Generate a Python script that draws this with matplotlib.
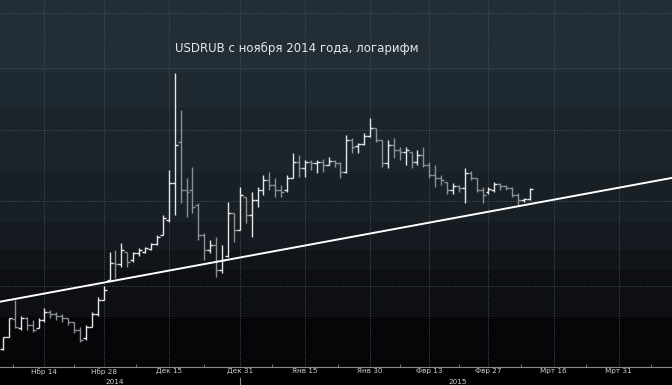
import numpy as np
import pandas as pd
import matplotlib
matplotlib.use("Agg")
import matplotlib.pyplot as plt
from matplotlib.patches import Rectangle
from matplotlib.collections import LineCollection
import matplotlib.transforms as mtransforms

# daily OHLC, every weekday from 2014-11-05 to 2015-03-10 (USD/RUB)
first_day = "2014-11-05"
opens = [43.7, 44.8, 46.6, 45.7, 46.7, 46.0, 45.7, 46.5, 47.3, 47.1, 46.9, 46.7, 46.3, 45.5, 44.7, 45.8, 47.1, 48.5,
         50.7, 52.6, 52.4, 53.8, 52.9, 53.7, 53.8, 54.2, 54.7, 55.8, 57.6, 62.4, 68.2, 61.5, 61.5, 59.6, 55.8, 54.0,
         54.6, 51.8, 53.3, 58.5, 56.4,
         60.6, 58.3, 60.2, 61.5, 62.8, 62.2, 61.5, 61.5, 63.1, 65.3, 64.5, 65.3, 65.2, 65.3, 64.9, 65.5, 65.2, 63.9,
         68.5, 67.6, 67.9, 69.1,
         70.3, 68.5, 65.2, 67.8, 67.0, 66.7, 66.7, 65.3, 66.3, 64.9, 63.5, 63.1, 62.6, 61.5, 62.0, 61.8, 63.8, 63.1,
         61.5, 61.2,
         61.5, 62.3, 62.0, 61.8, 60.8, 60.2, 60.3]
highs = [44.8, 46.7, 48.5, 46.9, 46.8, 46.5, 46.7, 47.7, 47.5, 47.3, 47.1, 46.7, 46.3, 45.8, 46.0, 47.3, 48.8, 50.0,
         53.8, 54.0, 54.9, 53.8, 53.8, 54.3, 54.4, 54.9, 55.8, 58.3, 64.2, 79.1, 73.1, 63.1, 64.6, 59.8, 56.1, 55.2,
         55.6, 54.6, 59.9, 58.5, 61.9,
         60.6, 61.2, 61.9, 63.5, 63.9, 63.1, 62.2, 63.5, 66.6, 66.3, 65.6, 65.6, 65.6, 65.7, 66.0, 65.6, 65.3, 69.2,
         68.8, 68.1, 69.5, 71.8,
         70.3, 68.5, 68.5, 68.8, 67.5, 67.5, 66.8, 67.0, 67.5, 65.3, 64.9, 63.5, 62.6, 62.4, 62.2, 64.5, 64.1, 63.1,
         61.9, 61.9,
         62.6, 62.4, 62.2, 61.9, 61.1, 60.4, 61.8]
lows = [43.6, 44.8, 45.7, 45.5, 45.5, 45.3, 45.7, 46.3, 46.7, 46.5, 46.3, 46.0, 45.2, 44.3, 44.5, 45.8, 46.9, 48.5,
        50.7, 50.9, 52.1, 52.1, 52.7, 53.4, 53.7, 54.0, 54.6, 55.8, 57.4, 58.3, 59.8, 58.0, 58.5, 55.2, 52.9, 53.7,
        51.0, 51.4, 53.2, 55.0, 56.4,
        57.3, 55.6, 59.3, 60.8, 61.5, 60.6, 60.6, 61.2, 63.1, 63.2, 63.2, 64.2, 63.8, 63.9, 64.9, 64.6, 63.1, 63.8,
        66.6, 66.6, 67.8, 68.9,
        68.2, 64.6, 64.5, 65.9, 65.6, 64.9, 64.5, 64.9, 64.6, 63.1, 61.9, 62.2, 61.0, 61.0, 61.2, 59.8, 62.8, 61.2,
        59.8, 61.0,
        61.2, 61.5, 61.5, 60.6, 59.6, 59.9, 60.2]
closes = [44.8, 46.7, 45.8, 46.7, 46.0, 45.5, 46.5, 47.3, 47.1, 46.9, 46.7, 46.3, 45.5, 44.5, 45.8, 47.1, 48.5, 49.6,
          52.6, 52.4, 54.0, 52.7, 53.7, 54.0, 54.3, 54.7, 55.6, 57.9, 62.4, 67.8, 61.5, 61.2, 59.3, 55.8, 54.0, 54.6,
          51.8, 52.9, 58.5, 56.4, 60.8,
          58.3, 60.2, 61.5, 62.8, 62.2, 61.5, 61.2, 63.1, 65.3, 64.5, 65.3, 65.2, 65.3, 64.9, 65.5, 65.2, 63.9, 68.5,
          67.5, 67.9, 69.1, 70.3,
          68.5, 65.2, 67.8, 67.0, 66.7, 67.0, 65.3, 66.3, 64.9, 63.5, 63.1, 62.8, 61.5, 62.0, 61.8, 63.8, 63.1, 61.5,
          60.8, 61.6,
          62.3, 62.0, 61.8, 60.8, 60.2, 60.3, 61.6]

# trend line through two anchor days (log scale)
trend_dates = ["2014-11-05", "2015-03-31"]
trend_values = [48.4, 61.8]

tick_dates = ["2014-11-14", "2014-11-28", "2014-12-15", "2014-12-31", "2015-01-15",
              "2015-01-30", "2015-02-13", "2015-02-27", "2015-03-16", "2015-03-31"]
tick_labels = ["Нбр 14", "Нбр 28", "Дек 15", "Дек 31", "Янв 15",
               "Янв 30", "Фвр 13", "Фвр 27", "Мрт 16", "Мрт 31"]
grid_levels = [50, 60, 70, 80, 90]
title = "USDRUB с ноября 2014 года, логарифм"

days = pd.bdate_range(first_day, "2015-04-30")


def day_index(d):
    return days.get_loc(pd.Timestamp(d))


W, H = 672, 385
AX_H = 367
fig = plt.figure(figsize=(W / 100, H / 100), dpi=100, facecolor="black")
ax = fig.add_axes([0, 1 - AX_H / H, 1, AX_H / H])
ax.set_facecolor("#060609")

# stepped background bands (pixel rows from the top of the plot)
band_edges = [0, 72, 108, 172, 222, 250, 270, 317, 367]
band_colors = ["#222d36", "#1f2931", "#1b242b", "#182026", "#151a20", "#11151a", "#0d0f13", "#060609"]
for top, bot, col in zip(band_edges[:-1], band_edges[1:], band_colors):
    ax.add_patch(Rectangle((0, 1 - bot / AX_H), 1, (bot - top) / AX_H, transform=ax.transAxes,
                           facecolor=col, edgecolor="none", zorder=0))

ax.set_yscale("log")
ax.set_ylim(42.0, 92.6)
ax.set_xlim(-0.507, 113.0)

# grid
for lv in grid_levels:
    ax.axhline(lv, color="#46535e", lw=0.7, ls=(0, (1, 1.5)), zorder=1)
major = [day_index(d) for d in tick_dates]
for m in major:
    ax.axvline(m, color="#46535e", lw=0.7, ls=(0, (1, 1.5)), zorder=1)

# OHLC bars
x = np.arange(len(opens))
o, h, l, c = map(np.array, (opens, highs, lows, closes))
cols = np.where(c >= o, "#e4e6e8", "#8b9095")
tick = 0.5
segs = []
seg_cols = []
for xi, oi, hi, li, ci, col in zip(x, o, h, l, c, cols):
    segs += [[(xi, li), (xi, hi)], [(xi - tick, oi), (xi, oi)], [(xi, ci), (xi + tick, ci)]]
    seg_cols += [col] * 3
ax.add_collection(LineCollection(segs, colors=seg_cols, linewidths=1.0, zorder=3))

# trend line
tx = np.array([day_index(d) for d in trend_dates], dtype=float)
slope = (np.log(trend_values[1]) - np.log(trend_values[0])) / (tx[1] - tx[0])
xs = np.array(ax.get_xlim())
ax.plot(xs, np.exp(np.log(trend_values[0]) + slope * (xs - tx[0])), color="white", lw=1.4, zorder=4)

# axes / ticks
for s in ["top", "left", "right"]:
    ax.spines[s].set_visible(False)
ax.spines["bottom"].set_color("#8a8a8a")
ax.spines["bottom"].set_linewidth(0.8)
ax.set_yticks([])
ax.yaxis.set_minor_locator(matplotlib.ticker.NullLocator())
ax.set_xticks(major)
ax.set_xticklabels(tick_labels)
step = np.diff(major).mean()
minor = [major[0] - step / 2] + [(a + b) / 2 for a, b in zip(major[:-1], major[1:])] + [major[-1] + step / 2]
ax.set_xticks(minor, minor=True)
ax.tick_params(axis="x", which="major", length=0, pad=0.6, labelsize=5.2, labelcolor="#cfd2d4")
ax.tick_params(axis="x", which="minor", length=2, direction="in", color="#8a8a8a")

# year labels and separator
fig.text(115 / W, 1 - 381.5 / H, "2014", fontsize=5.2, color="#cfd2d4", ha="center", va="center")
fig.text(458 / W, 1 - 381.5 / H, "2015", fontsize=5.2, color="#cfd2d4", ha="center", va="center")
trans = mtransforms.blended_transform_factory(ax.transData, ax.transAxes)
ysep = day_index("2014-12-31")
ax.plot([ysep, ysep], [-11 / AX_H, -18 / AX_H], transform=trans, color="#8a8a8a", lw=0.8, clip_on=False)

fig.text(175 / W, 1 - 48 / H, title, fontsize=8.5, color="#e6e8ea", ha="left", va="center")

fig.savefig("out.png", dpi=100, facecolor="black")
